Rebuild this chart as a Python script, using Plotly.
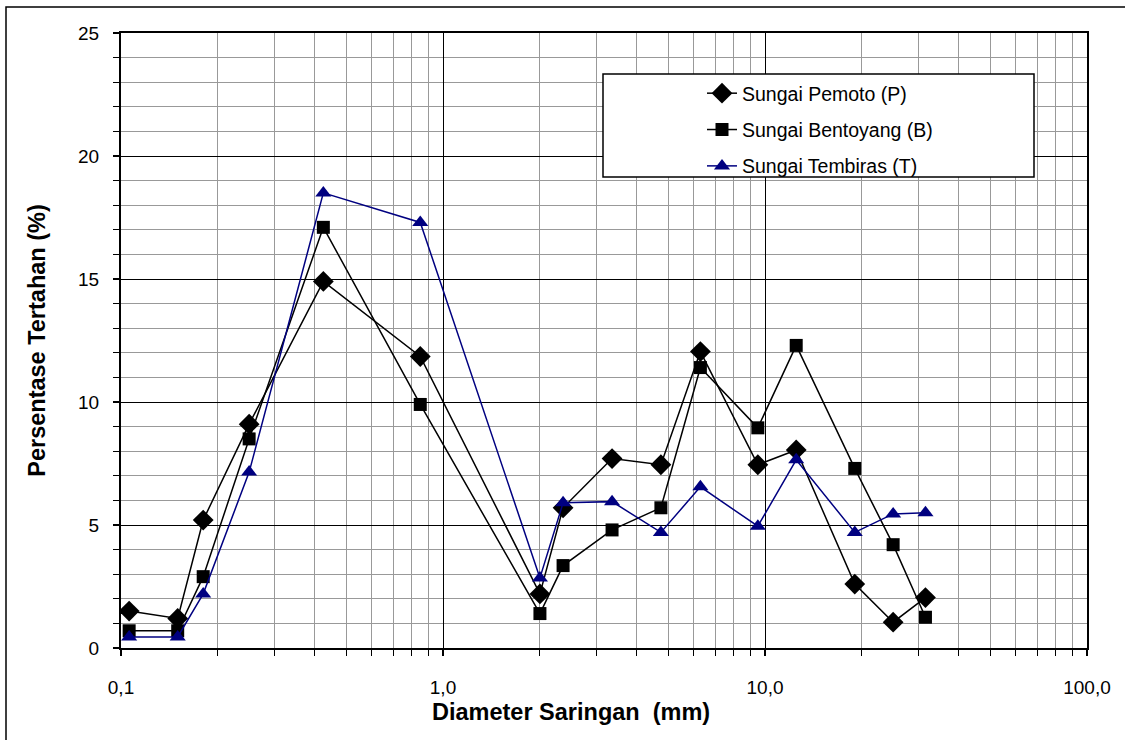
import plotly.graph_objects as go

# Sieve diameters (mm)
diameter = [0.106, 0.15, 0.18, 0.25, 0.425, 0.85, 2.0, 2.36, 3.35, 4.75, 6.3, 9.5, 12.5, 19.0, 25.0, 31.5]

# Percentage retained (%)
pemoto = [1.5, 1.2, 5.2, 9.1, 14.9, 11.85, 2.2, 5.7, 7.7, 7.45, 12.05, 7.45, 8.05, 2.6, 1.05, 2.05]
bentoyang = [0.7, 0.7, 2.9, 8.5, 17.1, 9.9, 1.4, 3.35, 4.8, 5.7, 11.4, 8.95, 12.3, 7.3, 4.2, 1.25]
tembiras = [0.45, 0.45, 2.2, 7.15, 18.5, 17.3, 2.85, 5.9, 5.95, 4.7, 6.55, 4.95, 7.65, 4.7, 5.45, 5.5]

x_tickvals = [0.1, 1, 10, 100]
x_ticktext = ["0,1", "1,0", "10,0", "100,0"]
y_tickvals = [0, 5, 10, 15, 20, 25]

font_family = "Liberation Sans, Arial, sans-serif"

fig = go.Figure()
fig.add_trace(go.Scatter(
    x=diameter, y=pemoto, mode="lines+markers", name="Sungai Pemoto (P)",
    legendgroup="p",
    line=dict(color="black", width=1.5),
    marker=dict(symbol="diamond", size=16, color="black"),
))
fig.add_trace(go.Scatter(
    x=diameter, y=bentoyang, mode="lines+markers", name="Sungai Bentoyang (B)",
    legendgroup="b",
    line=dict(color="black", width=1.5),
    marker=dict(symbol="square", size=13, color="black"),
))
fig.add_trace(go.Scatter(
    x=diameter, y=tembiras, mode="lines+markers", name="Sungai Tembiras (T)",
    legendgroup="t",
    line=dict(color="#000080", width=1.5),
    marker=dict(symbol="triangle-up", size=14, color="#000080"),
))

L, R, T, B = 121, 38, 33, 92
W, H = 1125, 740
pw = W - L - R
ph = H - T - B

def px_x(p):
    return (p - L) / pw

def px_y(p):
    return (H - B - p) / ph

shapes = [
    # outer chart frame
    dict(type="rect", xref="paper", yref="paper",
         x0=px_x(6), x1=px_x(1140), y0=px_y(760), y1=px_y(7),
         line=dict(color="black", width=1.5), fillcolor="rgba(0,0,0,0)", layer="below"),
    # legend box
    dict(type="rect", xref="paper", yref="paper",
         x0=px_x(603), x1=px_x(1034), y0=px_y(177), y1=px_y(74),
         line=dict(color="black", width=1.5), fillcolor="white", layer="above"),
]

annotations = [
    dict(text="<b>Diameter Saringan\u00a0\u00a0(mm)</b>", xref="paper", yref="paper",
         x=px_x(571), y=px_y(712), xanchor="center", yanchor="middle",
         showarrow=False, font=dict(size=23.5, family=font_family, color="black")),
]

fig.update_layout(
    width=W, height=H,
    margin=dict(l=L, r=R, t=T, b=B),
    paper_bgcolor="white", plot_bgcolor="white",
    font=dict(family=font_family, color="black", size=19),
    showlegend=True,
    legend=dict(
        x=px_x(702), y=px_y(74), xanchor="left", yanchor="top",
        bgcolor="rgba(0,0,0,0)", borderwidth=0,
        font=dict(size=19.5, family=font_family),
        traceorder="grouped", tracegroupgap=8,
        itemwidth=30,
    ),
    shapes=shapes,
    annotations=annotations,
)

fig.update_xaxes(
    type="log", range=[-1, 2],
    tickvals=x_tickvals, ticktext=x_ticktext,
    showgrid=True, gridcolor="black", gridwidth=1.2,
    ticks="outside", ticklen=6, tickcolor="black", tickwidth=1.5,
    minor=dict(dtick="D1", showgrid=True, gridcolor="#999999", gridwidth=1.2,
               ticks="outside", ticklen=6, tickcolor="black", tickwidth=1.2),
    showline=True, linecolor="black", linewidth=2, mirror=True,
    ticklabelstandoff=15,
    tickfont=dict(size=19),
    zeroline=False,
)

fig.update_yaxes(
    range=[0, 25],
    tickvals=y_tickvals,
    showgrid=True, gridcolor="black", gridwidth=1.2,
    ticks="outside", ticklen=6, tickcolor="black", tickwidth=1.5,
    minor=dict(dtick=1, showgrid=True, gridcolor="#999999", gridwidth=1.2,
               ticks="outside", ticklen=6, tickcolor="black", tickwidth=1.2),
    showline=True, linecolor="black", linewidth=2, mirror=True,
    tickfont=dict(size=19),
    ticklabelstandoff=10,
    title=dict(text="<b>Persentase Tertahan (%)</b>", font=dict(size=23.5), standoff=26),
    zeroline=False,
)

fig.write_html("out.html", config={"displayModeBar": False},
               post_script="document.body.style.margin='0px';")
